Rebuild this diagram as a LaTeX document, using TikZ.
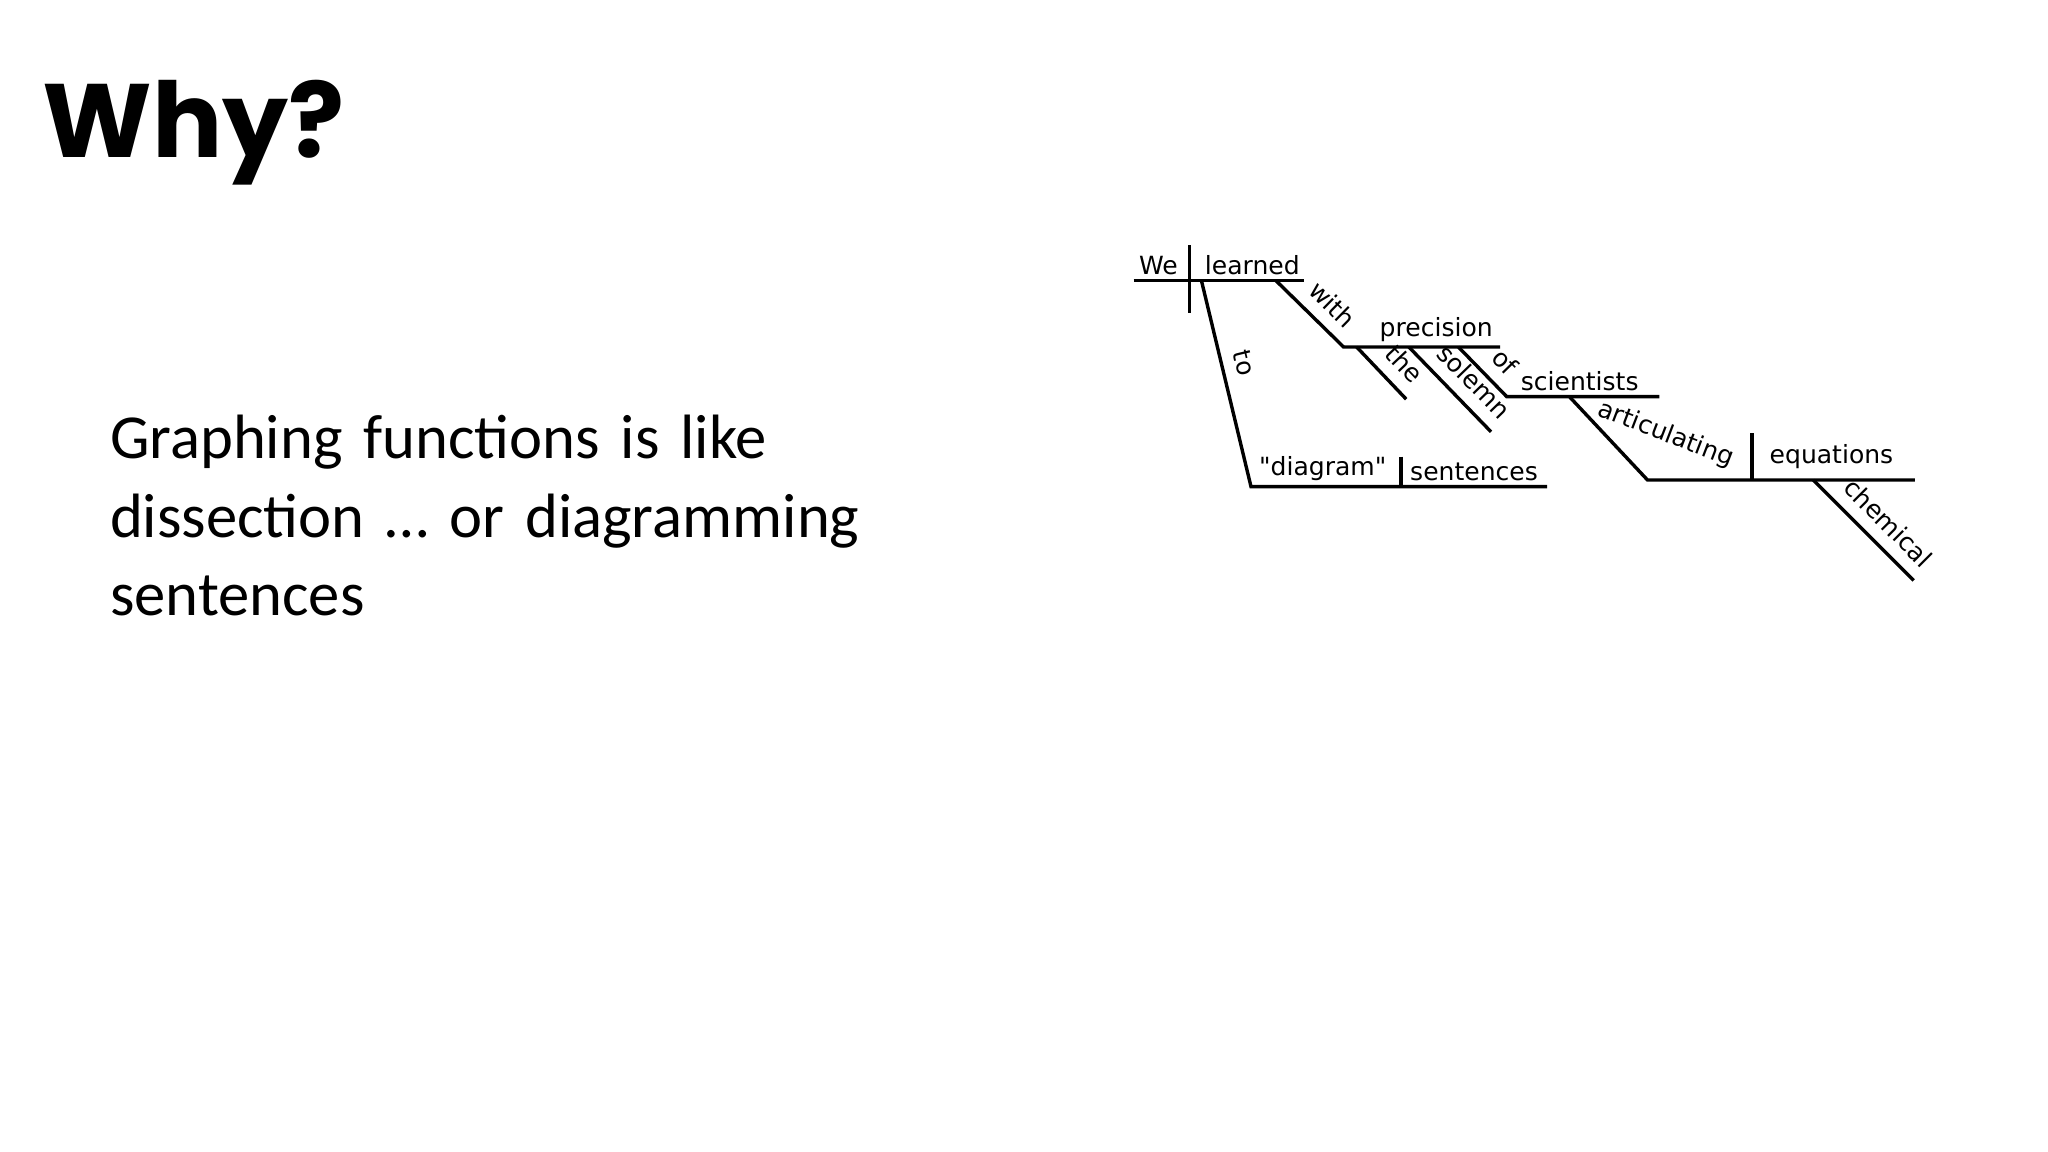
\documentclass[tikz,border=0pt]{standalone}
\usepackage{fontspec}
\setmainfont{Carlito}
\newfontfamily\titlefont{Poppins}
\newfontfamily\dvs{DejaVu Sans}
\begin{document}
\begin{tikzpicture}[x=0.5pt,y=-0.5pt,
  gl/.style={line width=1.3pt},
  wd/.style={font=\dvs\fontsize{9.6}{11}\selectfont, inner sep=1pt},
  sl/.style={wd, sloped, pos=0.55, anchor=south, inner ysep=2pt, yshift=2.5pt, xshift=2pt}]
\useasboundingbox (0,0) rectangle (1570,883);
\node[anchor=base west, font=\titlefont\bfseries\fontsize{40}{46}\selectfont, inner sep=0] (title) at (32,121) {Why?};
\node[anchor=north west, align=left, text width=340pt, font=\fontsize{24}{30}\selectfont, inner sep=0] (body) at (84,318)
 {\raggedright Graphing functions is like\\ dissection \dots{} or diagramming\\ sentences};
% coordinates
\coordinate (m0) at (869,215); \coordinate (m1) at (1000,215);
\coordinate (d0) at (912,188); \coordinate (d1) at (912,240);
\coordinate (t0) at (921,215); \coordinate (t1) at (959,373);
\coordinate (b1) at (1186,373);
\coordinate (e0) at (1074,350); \coordinate (e1) at (1074,373);
\coordinate (w0) at (978,215); \coordinate (w1) at (1030,266);
\coordinate (p1) at (1150,266);
\coordinate (th0) at (1040,266); \coordinate (th1) at (1078,306);
\coordinate (so0) at (1080,266); \coordinate (so1) at (1143,331);
\coordinate (of0) at (1118,266); \coordinate (of1) at (1155,304);
\coordinate (s1) at (1272,304);
\coordinate (a0) at (1203,304); \coordinate (a1) at (1263,368);
\coordinate (q1) at (1468,368);
\coordinate (v0) at (1343,332); \coordinate (v1) at (1343,368);
\coordinate (c0) at (1390,368); \coordinate (c1) at (1467,445);
\draw[gl] (m0) -- (m1); \draw[gl] (d0) -- (d1);
\node[wd, anchor=south] (we) at (888,213) {We};
\node[wd, anchor=south] (learned) at (960,213) {learned};
\draw[gl] (t0) -- node[sl, pos=0.4] (to) {to} (t1) -- (b1);
\draw[gl] (e0) -- (e1);
\node[wd, anchor=south] (diag) at (1014,371) {"diagram"};
\node[wd, anchor=south] (sent) at (1130,371) {sentences};
\draw[gl] (w0) -- node[sl] (with) {with} (w1) -- (p1);
\node[wd, anchor=south] (prec) at (1101,264) {precision};
\draw[gl] (th0) -- node[sl] (the) {the} (th1);
\draw[gl] (so0) -- node[sl] (sol) {solemn} (so1);
\draw[gl] (of0) -- node[sl] (of) {of} (of1) -- (s1);
\node[wd, anchor=south] (sci) at (1211,302) {scientists};
\draw[gl] (a0) -- (a1) -- (q1);
\node[wd, rotate=-21] (art) at (1277,333) {articulating};
\draw[gl] (v0) -- (v1);
\node[wd, anchor=south] (eq) at (1404,362) {equations};
\draw[gl] (c0) -- node[sl] (chem) {chemical} (c1);
\end{tikzpicture}
\end{document}
